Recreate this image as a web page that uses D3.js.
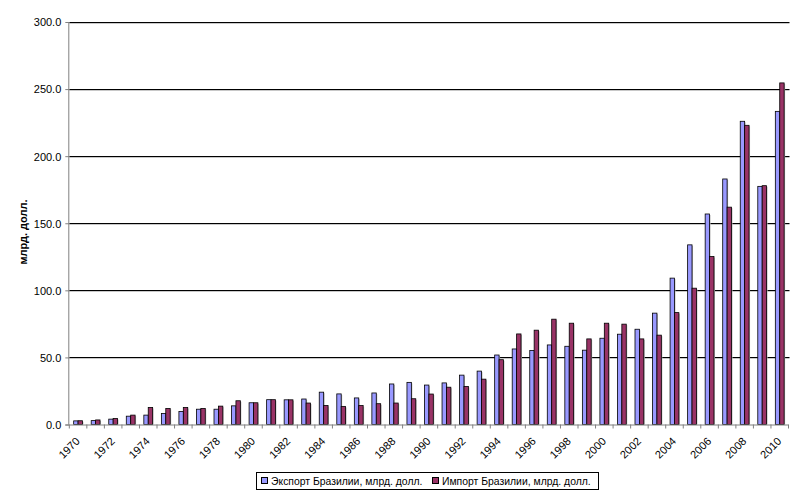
<!DOCTYPE html>
<html><head><meta charset="utf-8">
<script src="https://cdn.jsdelivr.net/npm/d3@7/dist/d3.min.js"></script>
<style>body{margin:0;background:#fff}svg{display:block}text{font-family:"Liberation Sans",Arial,sans-serif}</style>
</head><body><svg id="c" width="800" height="498"></svg>
<script>
const years = d3.range(1970, 2011);
const exportsBr = [2.7,2.9,4.0,6.2,7.0,8.2,9.7,11.4,11.4,13.9,16.2,18.5,18.4,19.0,24.1,22.8,19.8,23.5,30.2,31.4,29.4,31.0,36.8,39.8,51.8,56.3,55.2,59.3,58.3,55.4,64.3,67.3,71.0,83.0,109.1,133.9,156.9,183.0,226.0,177.5,233.4];
const importsBr = [2.8,3.4,4.5,7.0,12.7,12.0,12.7,12.0,13.7,17.7,16.2,18.5,18.4,16.0,14.2,13.5,14.1,15.5,16.0,19.2,22.7,27.8,28.4,33.8,48.3,67.5,70.3,78.5,75.5,63.8,75.5,74.8,63.8,66.6,83.4,101.6,125.2,162.0,223.0,178.0,254.6];
const yTicks = [0,50,100,150,200,250,300];
const seriesNames = ["Экспорт Бразилии, млрд. долл.","Импорт Бразилии, млрд. долл."];
const colors = ["#9999FF","#993366"];
const yTitle = "млрд. долл.";

const svg = d3.select("#c");
const L=69.3, R=788.5, T=22, B=424.5;
const x = d3.scaleBand().domain(years).range([L,R]).paddingInner(0).paddingOuter(0);
const y = d3.scaleLinear().domain([0,300]).range([B,T]);
const bw = 4.4;

// gridlines
svg.append("g").selectAll("line").data(yTicks.filter(d=>d>0)).join("line")
  .attr("x1",L).attr("x2",R+1).attr("y1",d=>Math.round(y(d))+0.5).attr("y2",d=>Math.round(y(d))+0.5)
  .attr("stroke","#000").attr("stroke-width",1);
svg.append("g").selectAll("line").data(yTicks.filter(d=>d>0)).join("line")
  .attr("x1",L).attr("x2",R+1).attr("y1",d=>Math.round(y(d))+1.5).attr("y2",d=>Math.round(y(d))+1.5)
  .attr("stroke","#c8c8c8").attr("stroke-width",1);

// bars
const data = years.map((yr,i)=>({yr, v:[exportsBr[i], importsBr[i]]}));
const g = svg.append("g");
data.forEach(d=>{
  const cx = x(d.yr)+x.bandwidth()/2;
  d.v.forEach((v,k)=>{
    const x0 = cx - bw + k*bw;
    g.append("rect").attr("x",x0+1).attr("y",y(v)+1).attr("width",bw).attr("height",B-y(v)-1).attr("fill","#bdbdbd");
    g.append("rect").attr("x",x0).attr("y",y(v)).attr("width",bw).attr("height",B-y(v))
      .attr("fill",colors[k]).attr("stroke","#000").attr("stroke-width",0.8);
  });
});

// axes
const yAxis = d3.axisLeft(y).tickValues(yTicks).tickSize(4).tickFormat(d3.format(".1f"));
const ya = svg.append("g").attr("transform",`translate(${L},0)`).call(yAxis);
ya.select(".domain").attr("stroke","#808080").attr("d",`M-0.5,${T}V${B}`);
ya.selectAll(".tick line").attr("stroke","#808080");
ya.selectAll("text").attr("font-size",11).attr("fill","#000").attr("font-family","Liberation Sans, Arial").attr("x",-8).attr("dy","0.35em");

const xa = svg.append("g").attr("transform",`translate(0,${B})`);
xa.append("line").attr("x1",L-4).attr("x2",R).attr("y1",0.5).attr("y2",0.5).attr("stroke","#808080");
xa.selectAll("line.t").data(years.concat([2011])).join("line").attr("class","t")
  .attr("x1",d=>d===2011?R:x(d)).attr("x2",d=>d===2011?R:x(d)).attr("y1",0).attr("y2",4).attr("stroke","#808080");
xa.selectAll("text").data(years.filter(d=>d%2===0)).join("text")
  .attr("transform",d=>`translate(${x(d)+x.bandwidth()/2-3},${12}) rotate(-45)`)
  .attr("text-anchor","end").attr("dy","0.7em").attr("font-size",11).text(d=>d);

// y title
svg.append("text").attr("transform","translate(27,232) rotate(-90)").attr("text-anchor","middle")
  .attr("font-size",11).attr("font-weight","bold").text(yTitle);

// legend
const lg = svg.append("g");
lg.append("rect").attr("x",256.5).attr("y",472.5).attr("width",342).attr("height",17).attr("fill","#fff").attr("stroke","#000");
const lx = [261, 432];
const lw = [148, 154];
seriesNames.forEach((n,k)=>{
  lg.append("rect").attr("x",lx[k]+0.5).attr("y",477.5).attr("width",6).attr("height",6).attr("fill",colors[k]).attr("stroke","#000");
  lg.append("text").attr("x",lx[k]+10).attr("y",485).attr("font-size",10.4).text(n);
});
</script></body></html>
